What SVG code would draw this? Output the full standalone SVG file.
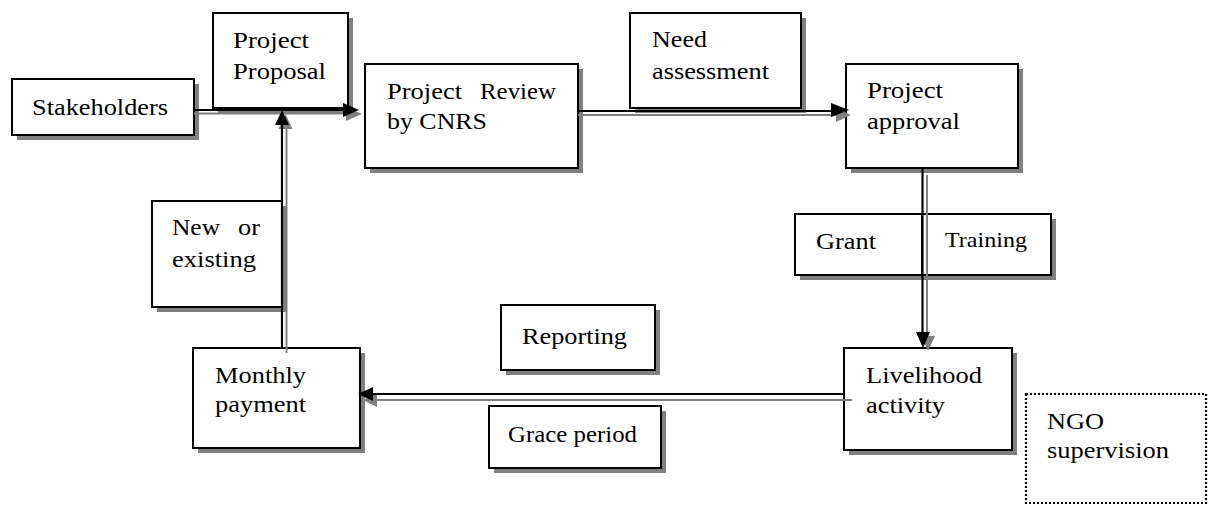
<svg xmlns="http://www.w3.org/2000/svg" width="1209" height="505" viewBox="0 0 1209 505">
  <style>
    .box { fill: #ffffff; stroke: #000000; stroke-width: 2; }
    .shadow { fill: #808080; }
    .dotted { fill: #ffffff; stroke: #000000; stroke-width: 2.2; stroke-dasharray: 2 2; }
    .lbl { font-family: 'Liberation Serif', 'Times New Roman', Times, serif; font-size: 24px; fill: #000000; }
    .small { font-size: 22px; }
    .line { stroke: #000000; stroke-width: 2.2; fill: none; }
    .line2 { stroke: #808080; stroke-width: 2; fill: none; }
    .head { fill: #000000; }
    .head2 { fill: #808080; }
  </style>

  <rect width="1209" height="505" fill="#ffffff"/>

  <g id="stakeholders">
    <rect class="shadow" x="17" y="84" width="182" height="56"/>
    <rect class="box" x="12" y="79" width="182" height="56"/>
    <text class="lbl" x="32" y="115" textLength="136" lengthAdjust="spacingAndGlyphs">Stakeholders</text>
  </g>

  <g id="project-proposal">
    <rect class="shadow" x="218" y="18" width="135" height="95"/>
    <rect class="box" x="213" y="13" width="135" height="95"/>
    <text class="lbl" x="233" y="48" textLength="76" lengthAdjust="spacingAndGlyphs">Project</text>
    <text class="lbl" x="233" y="79" textLength="93" lengthAdjust="spacingAndGlyphs">Proposal</text>
  </g>

  <g id="project-review">
    <rect class="shadow" x="370" y="69" width="213" height="104"/>
    <rect class="box" x="365" y="64" width="213" height="104"/>
    <text class="lbl" x="387" y="99" textLength="75" lengthAdjust="spacingAndGlyphs">Project</text>
    <text class="lbl" x="480" y="99" textLength="76" lengthAdjust="spacingAndGlyphs">Review</text>
    <text class="lbl" x="387" y="129" textLength="100" lengthAdjust="spacingAndGlyphs">by CNRS</text>
  </g>

  <g id="need-assessment">
    <rect class="shadow" x="635" y="18" width="171" height="95"/>
    <rect class="box" x="630" y="13" width="171" height="95"/>
    <text class="lbl" x="652" y="47" textLength="55" lengthAdjust="spacingAndGlyphs">Need</text>
    <text class="lbl" x="652" y="79" textLength="117" lengthAdjust="spacingAndGlyphs">assessment</text>
  </g>

  <g id="project-approval">
    <rect class="shadow" x="851" y="69" width="172" height="104"/>
    <rect class="box" x="846" y="64" width="172" height="104"/>
    <text class="lbl" x="867" y="98" textLength="76" lengthAdjust="spacingAndGlyphs">Project</text>
    <text class="lbl" x="867" y="129" textLength="93" lengthAdjust="spacingAndGlyphs">approval</text>
  </g>

  <g id="grant">
    <rect class="shadow" x="800" y="219" width="127" height="61"/>
    <rect class="box" x="795" y="214" width="127" height="61"/>
    <text class="lbl" x="816" y="249" textLength="60" lengthAdjust="spacingAndGlyphs">Grant</text>
  </g>

  <g id="training">
    <rect class="shadow" x="927" y="219" width="129" height="61"/>
    <rect class="box" x="922" y="214" width="129" height="61"/>
    <text class="lbl small" x="945" y="247" textLength="82" lengthAdjust="spacingAndGlyphs">Training</text>
  </g>

  <g id="new-or-existing">
    <rect class="shadow" x="157" y="206" width="130" height="106"/>
    <rect class="box" x="152" y="201" width="130" height="106"/>
    <text class="lbl" x="172" y="235" textLength="48" lengthAdjust="spacingAndGlyphs">New</text>
    <text class="lbl" x="238" y="235" textLength="22" lengthAdjust="spacingAndGlyphs">or</text>
    <text class="lbl" x="172" y="267" textLength="84" lengthAdjust="spacingAndGlyphs">existing</text>
  </g>

  <g id="monthly-payment">
    <rect class="shadow" x="198" y="353" width="167" height="100"/>
    <rect class="box" x="193" y="348" width="167" height="100"/>
    <text class="lbl" x="215" y="383" textLength="91" lengthAdjust="spacingAndGlyphs">Monthly</text>
    <text class="lbl" x="215" y="412" textLength="91" lengthAdjust="spacingAndGlyphs">payment</text>
  </g>

  <g id="reporting">
    <rect class="shadow" x="506" y="310" width="154" height="65"/>
    <rect class="box" x="501" y="305" width="154" height="65"/>
    <text class="lbl" x="522" y="344" textLength="105" lengthAdjust="spacingAndGlyphs">Reporting</text>
  </g>

  <g id="grace-period">
    <rect class="shadow" x="494" y="411" width="172" height="62"/>
    <rect class="box" x="489" y="406" width="172" height="62"/>
    <text class="lbl" x="508" y="442" textLength="129" lengthAdjust="spacingAndGlyphs">Grace period</text>
  </g>

  <g id="livelihood-activity">
    <rect class="shadow" x="849" y="353" width="168" height="102"/>
    <rect class="box" x="844" y="348" width="168" height="102"/>
    <text class="lbl" x="866" y="383" textLength="116" lengthAdjust="spacingAndGlyphs">Livelihood</text>
    <text class="lbl" x="866" y="413" textLength="79" lengthAdjust="spacingAndGlyphs">activity</text>
  </g>

  <g id="ngo-supervision">
    <rect class="dotted" x="1026" y="394" width="180" height="109"/>
    <text class="lbl" x="1047" y="429" textLength="57" lengthAdjust="spacingAndGlyphs">NGO</text>
    <text class="lbl" x="1047" y="458" textLength="122" lengthAdjust="spacingAndGlyphs">supervision</text>
  </g>

  <g id="connectors">
    <!-- Stakeholders to Project Review -->
    <path class="line2" d="M194,113.5 H348"/>
    <polygon class="head2" points="362,114 346,107 346,121"/>
    <path class="line" d="M194,110 H345"/>
    <polygon class="head" points="359,110 343,103 343,117"/>

    <!-- Monthly payment up to Project Proposal -->
    <path class="line2" d="M286.5,353 V128"/>
    <polygon class="head2" points="285.5,114 278.5,129 292.5,129"/>
    <path class="line" d="M282,348 V124"/>
    <polygon class="head" points="282,110 275,125 289,125"/>

    <!-- Project Review to Project approval -->
    <path class="line2" d="M578,115 H838"/>
    <polygon class="head2" points="851,115 836,108 836,122"/>
    <path class="line" d="M578,111 H834"/>
    <polygon class="head" points="849,110 831,103 831,117"/>

    <!-- Project approval down to Livelihood activity -->
    <path class="line2" d="M927,175 V338"/>
    <polygon class="head2" points="928,351 921,336 935,336"/>
    <path class="line" d="M922.5,168 V334"/>
    <polygon class="head" points="923,348 916,332 930,332"/>

    <!-- Livelihood activity to Monthly payment -->
    <path class="line2" d="M852,400 H374"/>
    <polygon class="head2" points="363,400 377,393 377,407"/>
    <path class="line" d="M844,394 H371"/>
    <polygon class="head" points="358,394 373,387 373,401"/>
  </g>
</svg>
